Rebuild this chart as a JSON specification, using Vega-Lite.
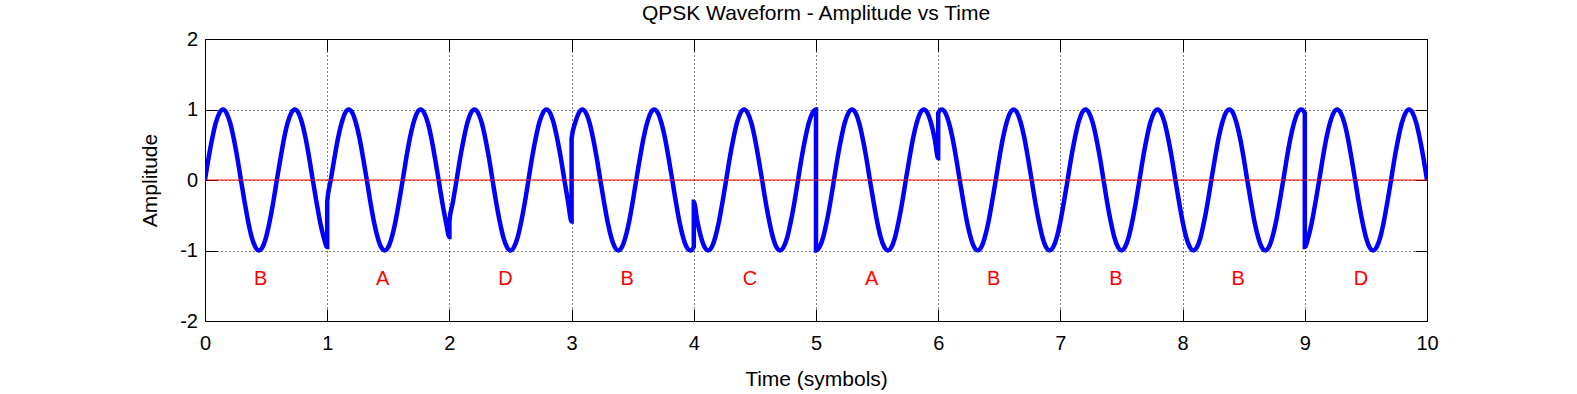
{
  "$schema": "https://vega.github.io/schema/vega-lite/v6.json",
  "width": 1222,
  "height": 282,
  "autosize": {"type": "none"},
  "padding": {"left": 205, "top": 39, "right": 150, "bottom": 73},
  "background": "white",
  "title": {"text": "QPSK Waveform - Amplitude vs Time", "font": "Liberation Sans", "fontSize": 21, "fontWeight": "normal", "color": "#000", "anchor": "middle", "frame": "group", "offset": 5},
  "datasets": {
    "wave": [
      {"t":0,"y":0},{"t":0.029,"y":0.309},{"t":0.059,"y":0.588},{"t":0.088,"y":0.809},{"t":0.118,"y":0.951},{"t":0.147,"y":1},{"t":0.176,"y":0.951},{"t":0.206,"y":0.809},{"t":0.235,"y":0.588},{"t":0.265,"y":0.309},{"t":0.294,"y":0},{"t":0.324,"y":-0.309},{"t":0.353,"y":-0.588},{"t":0.382,"y":-0.809},{"t":0.412,"y":-0.951},{"t":0.441,"y":-1},{"t":0.471,"y":-0.951},{"t":0.5,"y":-0.809},{"t":0.529,"y":-0.588},{"t":0.559,"y":-0.309},{"t":0.588,"y":0},{"t":0.618,"y":0.309},{"t":0.647,"y":0.588},{"t":0.676,"y":0.809},{"t":0.706,"y":0.951},{"t":0.735,"y":1},{"t":0.765,"y":0.951},{"t":0.794,"y":0.809},{"t":0.824,"y":0.588},{"t":0.853,"y":0.309},{"t":0.882,"y":0},{"t":0.912,"y":-0.309},{"t":0.941,"y":-0.588},{"t":0.971,"y":-0.809},{"t":1,"y":-0.951},
      {"t":1,"y":-0.309},{"t":1.029,"y":0},{"t":1.059,"y":0.309},{"t":1.088,"y":0.588},{"t":1.118,"y":0.809},{"t":1.147,"y":0.951},{"t":1.176,"y":1},{"t":1.206,"y":0.951},{"t":1.235,"y":0.809},{"t":1.265,"y":0.588},{"t":1.294,"y":0.309},{"t":1.324,"y":0},{"t":1.353,"y":-0.309},{"t":1.382,"y":-0.588},{"t":1.412,"y":-0.809},{"t":1.441,"y":-0.951},{"t":1.471,"y":-1},{"t":1.5,"y":-0.951},{"t":1.529,"y":-0.809},{"t":1.559,"y":-0.588},{"t":1.588,"y":-0.309},{"t":1.618,"y":0},{"t":1.647,"y":0.309},{"t":1.676,"y":0.588},{"t":1.706,"y":0.809},{"t":1.735,"y":0.951},{"t":1.765,"y":1},{"t":1.794,"y":0.951},{"t":1.824,"y":0.809},{"t":1.853,"y":0.588},{"t":1.882,"y":0.309},{"t":1.912,"y":0},{"t":1.941,"y":-0.309},{"t":1.971,"y":-0.588},{"t":2,"y":-0.809},
      {"t":2,"y":-0.588},{"t":2.029,"y":-0.309},{"t":2.059,"y":0},{"t":2.088,"y":0.309},{"t":2.118,"y":0.588},{"t":2.147,"y":0.809},{"t":2.176,"y":0.951},{"t":2.206,"y":1},{"t":2.235,"y":0.951},{"t":2.265,"y":0.809},{"t":2.294,"y":0.588},{"t":2.324,"y":0.309},{"t":2.353,"y":0},{"t":2.382,"y":-0.309},{"t":2.412,"y":-0.588},{"t":2.441,"y":-0.809},{"t":2.471,"y":-0.951},{"t":2.5,"y":-1},{"t":2.529,"y":-0.951},{"t":2.559,"y":-0.809},{"t":2.588,"y":-0.588},{"t":2.618,"y":-0.309},{"t":2.647,"y":0},{"t":2.676,"y":0.309},{"t":2.706,"y":0.588},{"t":2.735,"y":0.809},{"t":2.765,"y":0.951},{"t":2.794,"y":1},{"t":2.824,"y":0.951},{"t":2.853,"y":0.809},{"t":2.882,"y":0.588},{"t":2.912,"y":0.309},{"t":2.941,"y":0},{"t":2.971,"y":-0.309},{"t":3,"y":-0.588},
      {"t":3,"y":0.588},{"t":3.029,"y":0.809},{"t":3.059,"y":0.951},{"t":3.088,"y":1},{"t":3.118,"y":0.951},{"t":3.147,"y":0.809},{"t":3.176,"y":0.588},{"t":3.206,"y":0.309},{"t":3.235,"y":0},{"t":3.265,"y":-0.309},{"t":3.294,"y":-0.588},{"t":3.324,"y":-0.809},{"t":3.353,"y":-0.951},{"t":3.382,"y":-1},{"t":3.412,"y":-0.951},{"t":3.441,"y":-0.809},{"t":3.471,"y":-0.588},{"t":3.5,"y":-0.309},{"t":3.529,"y":0},{"t":3.559,"y":0.309},{"t":3.588,"y":0.588},{"t":3.618,"y":0.809},{"t":3.647,"y":0.951},{"t":3.676,"y":1},{"t":3.706,"y":0.951},{"t":3.735,"y":0.809},{"t":3.765,"y":0.588},{"t":3.794,"y":0.309},{"t":3.824,"y":0},{"t":3.853,"y":-0.309},{"t":3.882,"y":-0.588},{"t":3.912,"y":-0.809},{"t":3.941,"y":-0.951},{"t":3.971,"y":-1},{"t":4,"y":-0.951},
      {"t":4,"y":-0.309},{"t":4.029,"y":-0.588},{"t":4.059,"y":-0.809},{"t":4.088,"y":-0.951},{"t":4.118,"y":-1},{"t":4.147,"y":-0.951},{"t":4.176,"y":-0.809},{"t":4.206,"y":-0.588},{"t":4.235,"y":-0.309},{"t":4.265,"y":0},{"t":4.294,"y":0.309},{"t":4.324,"y":0.588},{"t":4.353,"y":0.809},{"t":4.382,"y":0.951},{"t":4.412,"y":1},{"t":4.441,"y":0.951},{"t":4.471,"y":0.809},{"t":4.5,"y":0.588},{"t":4.529,"y":0.309},{"t":4.559,"y":0},{"t":4.588,"y":-0.309},{"t":4.618,"y":-0.588},{"t":4.647,"y":-0.809},{"t":4.676,"y":-0.951},{"t":4.706,"y":-1},{"t":4.735,"y":-0.951},{"t":4.765,"y":-0.809},{"t":4.794,"y":-0.588},{"t":4.824,"y":-0.309},{"t":4.853,"y":0},{"t":4.882,"y":0.309},{"t":4.912,"y":0.588},{"t":4.941,"y":0.809},{"t":4.971,"y":0.951},{"t":5,"y":1},
      {"t":5,"y":-1},{"t":5.029,"y":-0.951},{"t":5.059,"y":-0.809},{"t":5.088,"y":-0.588},{"t":5.118,"y":-0.309},{"t":5.147,"y":0},{"t":5.176,"y":0.309},{"t":5.206,"y":0.588},{"t":5.235,"y":0.809},{"t":5.265,"y":0.951},{"t":5.294,"y":1},{"t":5.324,"y":0.951},{"t":5.353,"y":0.809},{"t":5.382,"y":0.588},{"t":5.412,"y":0.309},{"t":5.441,"y":0},{"t":5.471,"y":-0.309},{"t":5.5,"y":-0.588},{"t":5.529,"y":-0.809},{"t":5.559,"y":-0.951},{"t":5.588,"y":-1},{"t":5.618,"y":-0.951},{"t":5.647,"y":-0.809},{"t":5.676,"y":-0.588},{"t":5.706,"y":-0.309},{"t":5.735,"y":0},{"t":5.765,"y":0.309},{"t":5.794,"y":0.588},{"t":5.824,"y":0.809},{"t":5.853,"y":0.951},{"t":5.882,"y":1},{"t":5.912,"y":0.951},{"t":5.941,"y":0.809},{"t":5.971,"y":0.588},{"t":6,"y":0.309},
      {"t":6,"y":0.951},{"t":6.029,"y":1},{"t":6.059,"y":0.951},{"t":6.088,"y":0.809},{"t":6.118,"y":0.588},{"t":6.147,"y":0.309},{"t":6.176,"y":0},{"t":6.206,"y":-0.309},{"t":6.235,"y":-0.588},{"t":6.265,"y":-0.809},{"t":6.294,"y":-0.951},{"t":6.324,"y":-1},{"t":6.353,"y":-0.951},{"t":6.382,"y":-0.809},{"t":6.412,"y":-0.588},{"t":6.441,"y":-0.309},{"t":6.471,"y":0},{"t":6.5,"y":0.309},{"t":6.529,"y":0.588},{"t":6.559,"y":0.809},{"t":6.588,"y":0.951},{"t":6.618,"y":1},{"t":6.647,"y":0.951},{"t":6.676,"y":0.809},{"t":6.706,"y":0.588},{"t":6.735,"y":0.309},{"t":6.765,"y":0},{"t":6.794,"y":-0.309},{"t":6.824,"y":-0.588},{"t":6.853,"y":-0.809},{"t":6.882,"y":-0.951},{"t":6.912,"y":-1},{"t":6.941,"y":-0.951},{"t":6.971,"y":-0.809},{"t":7,"y":-0.588},
      {"t":7.029,"y":-0.309},{"t":7.059,"y":0},{"t":7.088,"y":0.309},{"t":7.118,"y":0.588},{"t":7.147,"y":0.809},{"t":7.176,"y":0.951},{"t":7.206,"y":1},{"t":7.235,"y":0.951},{"t":7.265,"y":0.809},{"t":7.294,"y":0.588},{"t":7.324,"y":0.309},{"t":7.353,"y":0},{"t":7.382,"y":-0.309},{"t":7.412,"y":-0.588},{"t":7.441,"y":-0.809},{"t":7.471,"y":-0.951},{"t":7.5,"y":-1},{"t":7.529,"y":-0.951},{"t":7.559,"y":-0.809},{"t":7.588,"y":-0.588},{"t":7.618,"y":-0.309},{"t":7.647,"y":0},{"t":7.676,"y":0.309},{"t":7.706,"y":0.588},{"t":7.735,"y":0.809},{"t":7.765,"y":0.951},{"t":7.794,"y":1},{"t":7.824,"y":0.951},{"t":7.853,"y":0.809},{"t":7.882,"y":0.588},{"t":7.912,"y":0.309},{"t":7.941,"y":0},{"t":7.971,"y":-0.309},{"t":8,"y":-0.588},
      {"t":8.029,"y":-0.809},{"t":8.059,"y":-0.951},{"t":8.088,"y":-1},{"t":8.118,"y":-0.951},{"t":8.147,"y":-0.809},{"t":8.176,"y":-0.588},{"t":8.206,"y":-0.309},{"t":8.235,"y":0},{"t":8.265,"y":0.309},{"t":8.294,"y":0.588},{"t":8.324,"y":0.809},{"t":8.353,"y":0.951},{"t":8.382,"y":1},{"t":8.412,"y":0.951},{"t":8.441,"y":0.809},{"t":8.471,"y":0.588},{"t":8.5,"y":0.309},{"t":8.529,"y":0},{"t":8.559,"y":-0.309},{"t":8.588,"y":-0.588},{"t":8.618,"y":-0.809},{"t":8.647,"y":-0.951},{"t":8.676,"y":-1},{"t":8.706,"y":-0.951},{"t":8.735,"y":-0.809},{"t":8.765,"y":-0.588},{"t":8.794,"y":-0.309},{"t":8.824,"y":0},{"t":8.853,"y":0.309},{"t":8.882,"y":0.588},{"t":8.912,"y":0.809},{"t":8.941,"y":0.951},{"t":8.971,"y":1},{"t":9,"y":0.951},
      {"t":9,"y":-0.951},{"t":9.029,"y":-0.809},{"t":9.059,"y":-0.588},{"t":9.088,"y":-0.309},{"t":9.118,"y":0},{"t":9.147,"y":0.309},{"t":9.176,"y":0.588},{"t":9.206,"y":0.809},{"t":9.235,"y":0.951},{"t":9.265,"y":1},{"t":9.294,"y":0.951},{"t":9.324,"y":0.809},{"t":9.353,"y":0.588},{"t":9.382,"y":0.309},{"t":9.412,"y":0},{"t":9.441,"y":-0.309},{"t":9.471,"y":-0.588},{"t":9.5,"y":-0.809},{"t":9.529,"y":-0.951},{"t":9.559,"y":-1},{"t":9.588,"y":-0.951},{"t":9.618,"y":-0.809},{"t":9.647,"y":-0.588},{"t":9.676,"y":-0.309},{"t":9.706,"y":0},{"t":9.735,"y":0.309},{"t":9.765,"y":0.588},{"t":9.794,"y":0.809},{"t":9.824,"y":0.951},{"t":9.853,"y":1},{"t":9.882,"y":0.951},{"t":9.912,"y":0.809},{"t":9.941,"y":0.588},{"t":9.971,"y":0.309},{"t":10,"y":0}
    ],
    "symbols": [
      {"t":0.4,"y":-1.4,"label":"B"},{"t":1.4,"y":-1.4,"label":"A"},{"t":2.4,"y":-1.4,"label":"D"},{"t":3.4,"y":-1.4,"label":"B"},{"t":4.4,"y":-1.4,"label":"C"},
      {"t":5.4,"y":-1.4,"label":"A"},{"t":6.4,"y":-1.4,"label":"B"},{"t":7.4,"y":-1.4,"label":"B"},{"t":8.4,"y":-1.4,"label":"B"},{"t":9.4,"y":-1.4,"label":"D"}
    ]
  },
  "layer": [
    {
      "data": {"name": "wave"},
      "mark": {"type": "line", "interpolate": "monotone", "color": "#0000ff", "strokeWidth": 4.5, "clip": true},
      "encoding": {
        "x": {"field": "t", "type": "quantitative", "scale": {"domain": [0, 10], "nice": false, "zero": false},
              "axis": {"orient": "bottom", "values": [0,1,2,3,4,5,6,7,8,9,10], "grid": true, "labelPadding": 24.5, "title": "Time (symbols)", "titlePadding": 15}},
        "y": {"field": "y", "type": "quantitative", "scale": {"domain": [-2, 2], "nice": false, "zero": false},
              "axis": {"orient": "left", "values": [-2,-1,0,1,2], "grid": true, "labelPadding": 19.5, "labelExpr": "replace(datum.label, '\u2212', '-')", "title": "Amplitude", "titlePadding": 19}},
        "order": {"value": null}
      }
    },
    {
      "data": {"values": [{"y": 0}]},
      "mark": {"type": "rule", "color": "#ff0000", "strokeWidth": 1},
      "encoding": {
        "y": {"field": "y", "type": "quantitative", "scale": {"domain": [-2, 2], "nice": false, "zero": false}, "axis": null}
      }
    },
    {
      "data": {"name": "symbols"},
      "mark": {"type": "text", "align": "left", "baseline": "middle", "font": "Liberation Sans", "fontSize": 20, "color": "#ff0000"},
      "encoding": {
        "x": {"field": "t", "type": "quantitative", "scale": {"domain": [0, 10], "nice": false, "zero": false},
              "axis": {"orient": "top", "values": [0,1,2,3,4,5,6,7,8,9,10], "grid": false, "labels": false, "title": null}},
        "y": {"field": "y", "type": "quantitative", "scale": {"domain": [-2, 2], "nice": false, "zero": false},
              "axis": {"orient": "right", "values": [-2,-1,0,1,2], "grid": false, "labels": false, "title": null}},
        "text": {"field": "label"}
      }
    }
  ],
  "resolve": {"axis": {"x": "independent", "y": "independent"}},
  "config": {
    "view": {"stroke": null},
    "font": "Liberation Sans",
    "axis": {
      "domainColor": "#000", "domainWidth": 1,
      "tickColor": "#000", "tickWidth": 1, "tickSize": -12,
      "labelColor": "#000", "labelFont": "Liberation Sans", "labelFontSize": 20,
      "labelFlush": false, "labelOverlap": false, "labelBound": false,
      "titleColor": "#000", "titleFont": "Liberation Sans", "titleFontSize": 21, "titleFontWeight": "normal",
      "gridColor": "#000", "gridDash": [1, 3], "gridOpacity": 1, "gridWidth": 1
    }
  }
}
